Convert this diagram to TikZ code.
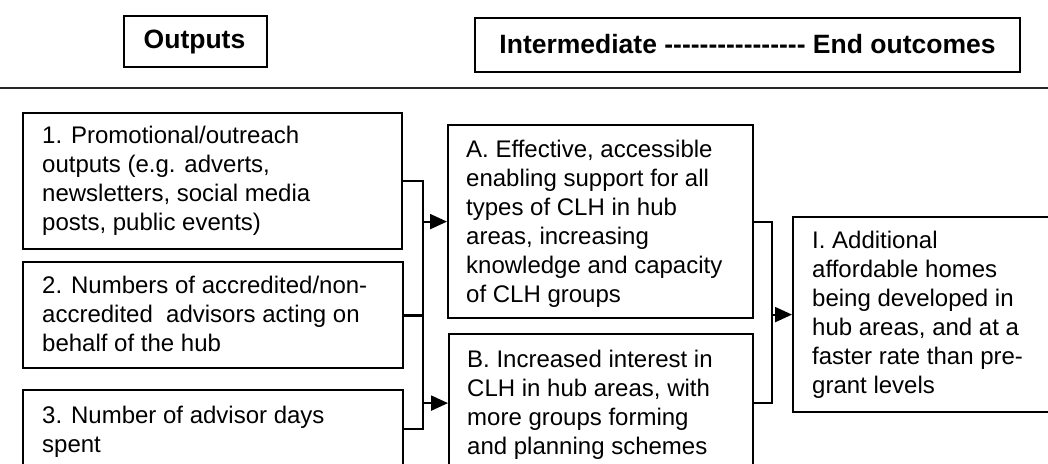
\documentclass[tikz,border=0pt]{standalone}
\usepackage{fontspec}
\newfontfamily\arialf{Liberation Sans}
\usetikzlibrary{arrows.meta}
\begin{document}
\begin{tikzpicture}[x=1pt,y=-1pt,
  box/.style={draw, line width=2.2pt, inner sep=0pt, anchor=north west},
  hbox/.style={draw, line width=2.2pt, inner sep=0pt, anchor=north west},
  txt/.style={inner sep=0pt, anchor=base west, font=\arialf\fontsize{24}{29}\selectfont},
  htxt/.style={inner sep=0pt, anchor=base, font=\arialf\bfseries\fontsize{26.5}{30}\selectfont},
  conn/.style={line width=2.2pt},
  arr/.style={line width=2.2pt, -{Triangle[length=17pt,width=15pt]}}
]
\useasboundingbox (0,0) rectangle (1048,463);
% header
\node[hbox, minimum width=143pt, minimum height=51pt] (hout) at (123,15) {};
\node[htxt] (houtt) at (194.5,48) {Outputs};
\node[hbox, minimum width=545pt, minimum height=54pt] (hint) at (474,17) {};
\node[htxt] (hintt) at (747.5,53) {Intermediate ---------------- End outcomes};
\coordinate (hl1) at (0,88);
\coordinate (hl2) at (1048,88);
\draw[line width=2.2pt, black!85] (hl1) -- (hl2);
% output boxes
\node[box, minimum width=379pt, minimum height=136pt] (b1) at (22,112) {};
\node[txt] (t1) at (42,143) {\parbox[t]{350pt}{\raggedright 1. Promotional/outreach\\outputs (e.g. adverts,\\newsletters, social media\\posts, public events)}};
\node[box, minimum width=380pt, minimum height=106pt] (b2) at (22,261) {};
\node[txt] (t2) at (42,293) {\parbox[t]{360pt}{\raggedright 2. Numbers of accredited/non-\\accredited\ \ advisors acting on\\behalf of the hub}};
\node[box, minimum width=380pt, minimum height=78pt] (b3) at (22,389) {};
\node[txt] (t3) at (42,423) {\parbox[t]{360pt}{\raggedright 3. Number of advisor days\\spent}};
% intermediate boxes
\node[box, minimum width=305pt, minimum height=193pt] (bA) at (447,124) {};
\node[txt] (tA) at (466,157) {\parbox[t]{290pt}{\raggedright A. Effective, accessible\\enabling support for all\\types of CLH in hub\\areas, increasing\\knowledge and capacity\\of CLH groups}};
\node[box, minimum width=304pt, minimum height=138pt] (bB) at (448,333) {};
\node[txt] (tB) at (467,367) {\parbox[t]{290pt}{\raggedright B. Increased interest in\\CLH in hub areas, with\\more groups forming\\and planning schemes}};
% end outcome
\node[box, minimum width=268pt, minimum height=195pt] (bI) at (792,216) {};
\node[txt] (tI) at (812,248) {\parbox[t]{240pt}{\raggedright I. Additional\\affordable homes\\being developed in\\hub areas, and at a\\faster rate than pre-\\grant levels}};
% connectors left
\coordinate (v1) at (423,0);
\draw[conn] (b1.east) -- (b1.east -| v1) -- (b3.east -| v1) -- (b3.east);
\draw[line width=3pt] (b2.east) -- (b2.east -| v1);
\draw[arr] (bA.west -| v1) -- (bA.west);
\draw[arr] (bB.west -| v1) -- (bB.west);
% connectors right
\coordinate (v2) at (772,0);
\draw[conn] (bA.east) -- (bA.east -| v2) -- (bB.east -| v2) -- (bB.east);
\draw[arr] (bI.west -| v2) -- (bI.west);
\end{tikzpicture}
\end{document}
